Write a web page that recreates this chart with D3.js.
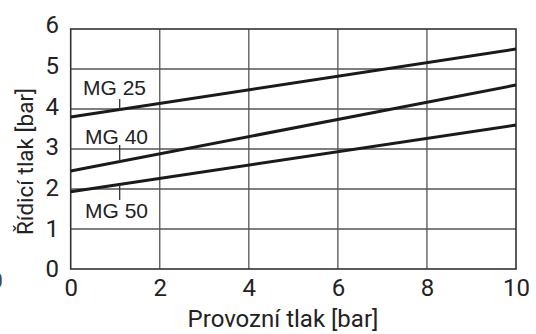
<!DOCTYPE html>
<html><head><meta charset="utf-8">
<script src="https://cdn.jsdelivr.net/npm/d3@7"></script>
<style>body{margin:0;background:#fff}svg{display:block}</style>
</head><body>
<script>
const xTicks = [0, 2, 4, 6, 8, 10];
const yTicks = [0, 1, 2, 3, 4, 5, 6];
const seriesNames = ["MG 25", "MG 40", "MG 50"];
const xValues = [0, 10];
const mg25 = [3.8, 5.5];
const mg40 = [2.45, 4.6];
const mg50 = [1.93, 3.6];
const labelX = 1.1;
const xTitle = "Provozní tlak [bar]";
const yTitle = "Řídicí tlak [bar]";

const W = 536, H = 334;
const svg = d3.select("body").append("svg").attr("width", W).attr("height", H);
const x = d3.scaleLinear().domain([0, 10]).range([70.7, 516]);
const y = d3.scaleLinear().domain([0, 6]).range([269, 29]);
const yLab = d3.scaleLinear().domain([0, 6]).range([269, 25.3]);

const tickFont = "Roboto, sans-serif";
// grid
svg.append("g").selectAll("line.v").data(xTicks.slice(1, -1)).join("line")
  .attr("x1", d => x(d)).attr("x2", d => x(d)).attr("y1", y(6)).attr("y2", y(0))
  .attr("stroke", "#555").attr("stroke-width", 1.3);
svg.append("g").selectAll("line.h").data(yTicks.slice(1, -1)).join("line")
  .attr("x1", x(0)).attr("x2", x(10)).attr("y1", d => y(d)).attr("y2", d => y(d))
  .attr("stroke", "#555").attr("stroke-width", 1.3);
svg.append("rect").attr("x", x(0)).attr("y", y(6)).attr("width", x(10) - x(0)).attr("height", y(0) - y(6))
  .attr("fill", "none").attr("stroke", "#333").attr("stroke-width", 1.6);

// axes labels
const xa = svg.append("g").attr("transform", `translate(0,${y(0)})`)
  .call(d3.axisBottom(x).tickValues(xTicks).tickSize(0).tickPadding(10).tickFormat(d3.format("d")));
xa.select(".domain").remove();
xa.selectAll("text").attr("font-family", tickFont).attr("font-size", 24).attr("fill", "#222").attr("dy", "0.71em");
const ya = svg.append("g").attr("transform", `translate(59,0)`)
  .call(d3.axisLeft(yLab).tickValues(yTicks).tickSize(0).tickPadding(0).tickFormat(d3.format("d")));
ya.select(".domain").remove();
ya.selectAll("text").attr("font-family", tickFont).attr("font-size", 24).attr("fill", "#222");

// cut-off glyph at left edge
svg.append("text").attr("x", -9).attr("y", 288).attr("font-family", tickFont).attr("font-size", 21).attr("fill", "#444").text("0");

// titles
svg.append("text").attr("x", 283).attr("y", 327).attr("text-anchor", "middle")
  .attr("font-family", tickFont).attr("font-size", 24).attr("fill", "#222").text(xTitle);
svg.append("text").attr("transform", "translate(33,161.5) rotate(-90)").attr("text-anchor", "middle")
  .attr("font-family", tickFont).attr("font-size", 22.5).attr("fill", "#222").text(yTitle);

// series
const series = [mg25, mg40, mg50];
const line = d3.line().x((d, i) => x(xValues[i])).y(d => y(d));
svg.append("g").selectAll("path").data(series).join("path")
  .attr("d", line).attr("fill", "none").attr("stroke", "#1a1a1a").attr("stroke-width", 3);

// series labels and leader ticks
const labelY = [99, 145, 200];
const labelBase = [95, 144, 218];
const labelStartX = [83, 85, 85];
const yAt = (s, xv) => s[0] + (s[1] - s[0]) * xv / 10;
seriesNames.forEach((name, i) => {
  svg.append("text").attr("x", labelStartX[i]).attr("y", labelBase[i])
    .attr("font-family", "Liberation Sans, Arial, sans-serif").attr("font-size", 21).attr("fill", "#222").text(name);
  svg.append("line").attr("x1", x(labelX)).attr("x2", x(labelX))
    .attr("y1", labelY[i]).attr("y2", y(yAt(series[i], labelX)))
    .attr("stroke", "#333").attr("stroke-width", 1.3);
});
</script>
</body></html>
